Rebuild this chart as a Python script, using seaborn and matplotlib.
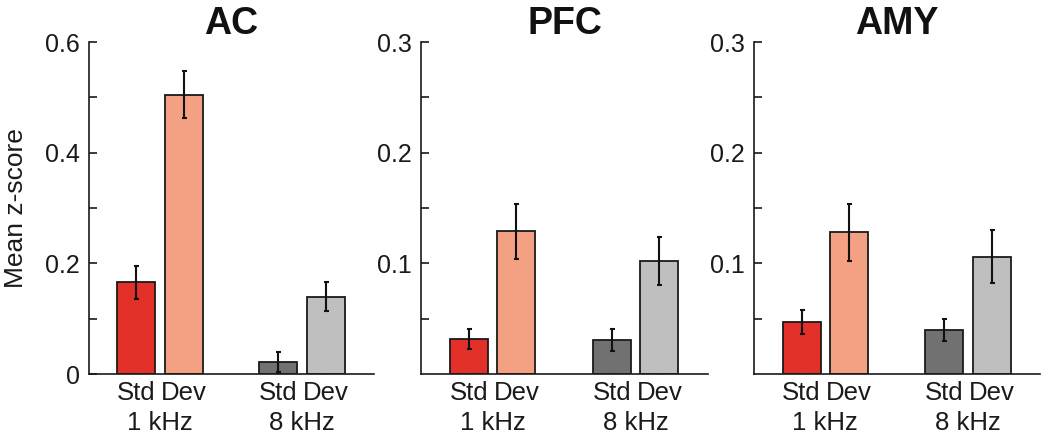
import numpy as np
import pandas as pd
import matplotlib
matplotlib.use("Agg")
import matplotlib.pyplot as plt
from matplotlib.ticker import FixedLocator, NullFormatter
import seaborn as sns

# ---- data ----
regions = ["AC", "PFC", "AMY"]
frequencies = ["1 kHz", "8 kHz"]
conditions = ["Std", "Dev"]
bar_labels = ["1 kHz Std", "1 kHz Dev", "8 kHz Std", "8 kHz Dev"]
ac_means = [0.166, 0.505, 0.022, 0.140]
ac_sem = [0.030, 0.043, 0.018, 0.027]
pfc_means = [0.032, 0.129, 0.031, 0.102]
pfc_sem = [0.009, 0.025, 0.010, 0.022]
amy_means = [0.047, 0.128, 0.040, 0.106]
amy_sem = [0.011, 0.026, 0.010, 0.024]
y_max = [0.6, 0.3, 0.3]
y_major = [[0, 0.2, 0.4, 0.6], [0.1, 0.2, 0.3], [0.1, 0.2, 0.3]]
y_minor = [[0.1, 0.3, 0.5], [0.05, 0.15, 0.25], [0.05, 0.15, 0.25]]
y_label = "Mean z-score"

bar_colors = ["#E3312A", "#F4A083", "#717171", "#BFBFBF"]

sns.set_theme(style="ticks")
plt.rcParams["font.family"] = ["Liberation Sans", "DejaVu Sans"]

fig = plt.figure(figsize=(10.5, 4.37), dpi=100)
W, H = 1050, 437
lefts = [89, 421, 754]
widths = [285, 287, 286]
bottom_px, top_px = 374, 42

means_all = [ac_means, pfc_means, amy_means]
sem_all = [ac_sem, pfc_sem, amy_sem]

# bar positions: groups separated by one empty slot
positions = []
for gi in range(len(frequencies)):
    for ci in range(len(conditions)):
        positions.append(1 + gi * 3 + ci)
group_centers = [1.5 + gi * 3 for gi in range(len(frequencies))]

for k, region in enumerate(regions):
    ax = fig.add_axes([lefts[k] / W, (H - bottom_px) / H,
                       widths[k] / W, (bottom_px - top_px) / H])
    df = pd.DataFrame({"pos": positions, "mean": means_all[k],
                       "label": bar_labels})
    sns.barplot(data=df, x="pos", y="mean", hue="label",
                palette=dict(zip(bar_labels, bar_colors)),
                native_scale=True, dodge=False, width=0.8, saturation=1,
                edgecolor="#1a1a1a", linewidth=1.3, legend=False, ax=ax,
                errorbar=None)
    ax.errorbar(df["pos"], df["mean"], yerr=sem_all[k], fmt="none",
                ecolor="#111111", elinewidth=1.5, capsize=1.8,
                capthick=1.5, zorder=5)
    ax.set_xlim(0, 6.02)
    ax.set_ylim(0, y_max[k])
    ax.set_xlabel("")
    ax.set_ylabel("")

    # y ticks
    ax.yaxis.set_major_locator(FixedLocator(y_major[k]))
    ax.yaxis.set_minor_locator(FixedLocator(y_minor[k]))
    ax.set_yticklabels([f"{v:g}" for v in y_major[k]])
    ax.yaxis.set_minor_formatter(NullFormatter())
    ax.tick_params(axis="y", which="both", direction="in", length=5.5,
                   width=1.2, color="#1a1a1a", labelsize=18, pad=6.5,
                   labelcolor="#1a1a1a")

    # x ticks: condition labels + frequency labels below
    ax.xaxis.set_major_locator(FixedLocator(positions))
    ax.set_xticklabels(conditions * len(frequencies))
    ax.xaxis.set_minor_locator(FixedLocator(group_centers))
    ax.set_xticklabels(frequencies, minor=True)
    ax.tick_params(axis="x", which="major", direction="in", length=3,
                   width=1.0, color="#555555", labelsize=18.5, pad=5,
                   labelcolor="#1a1a1a")
    ax.tick_params(axis="x", which="minor", length=0, labelsize=18.5,
                   pad=27, labelcolor="#1a1a1a")

    sns.despine(ax=ax)
    for s in ["left", "bottom"]:
        ax.spines[s].set_linewidth(1.2)
        ax.spines[s].set_color("#1a1a1a")

    ax.set_title(region, fontsize=27, fontweight="bold", pad=6,
                 color="#111111")
    if k == 0:
        ax.set_ylabel(y_label, fontsize=19, color="#1a1a1a")
        ax.yaxis.set_label_coords(-0.214, 0.5)

fig.savefig("out.png", dpi=100)
